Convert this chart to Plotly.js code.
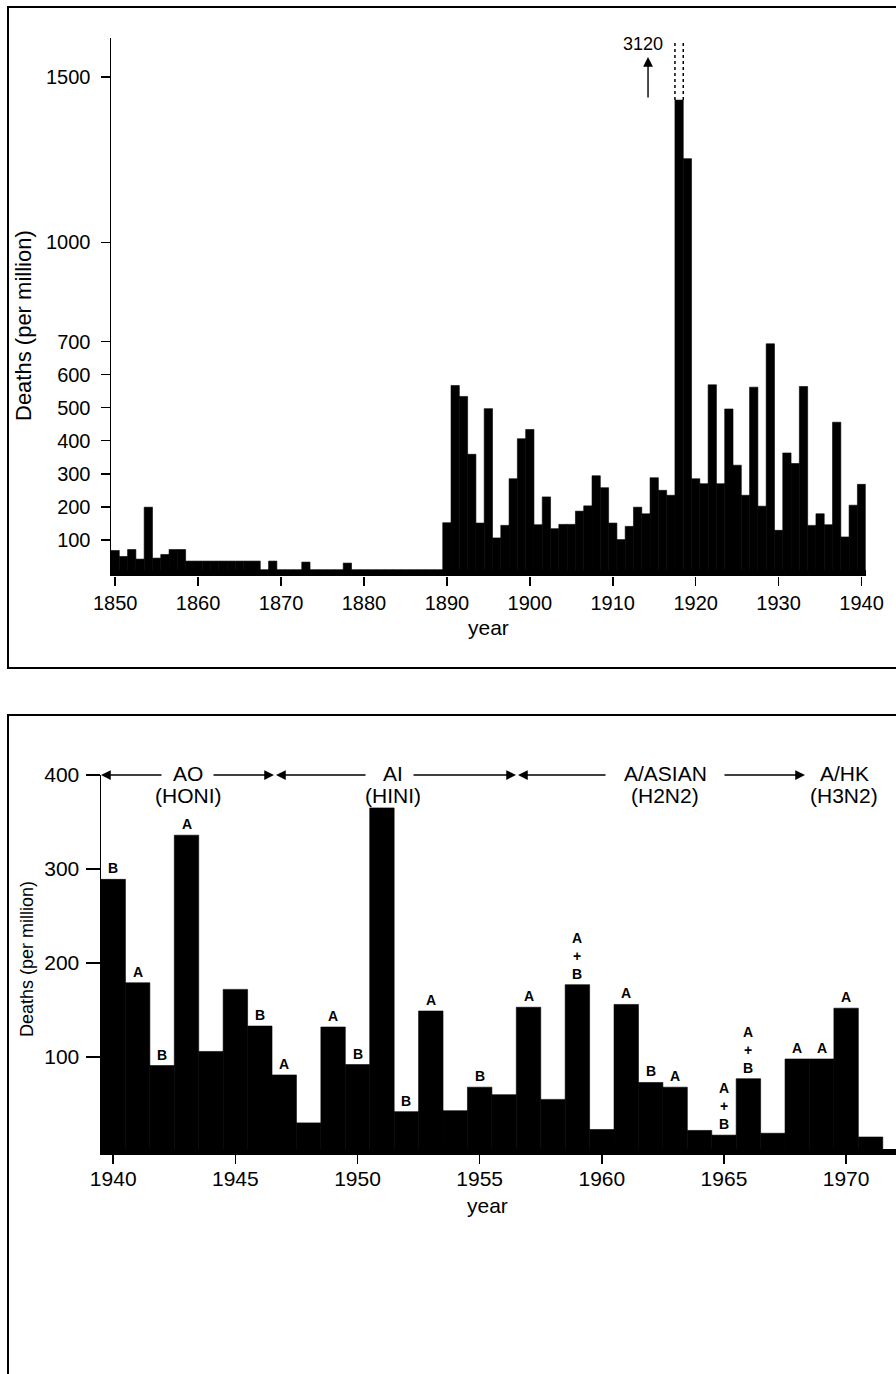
<!DOCTYPE html>
<html>
<head>
<meta charset="utf-8">
<script src="https://cdn.plot.ly/plotly-3.0.1.min.js"></script>
<style>
  html, body { margin: 0; padding: 0; background: #fff; overflow: hidden; }
  #chart { width: 930px; height: 1374px; }
</style>
</head>
<body>
<div id="chart"></div>
<script>
// ---------------- DATA ----------------
// Top panel: influenza deaths per million, 1850-1940
const topYears = [];
for (let y = 1850; y <= 1940; y++) topYears.push(y);
const topDeaths = [
  68, 50, 71, 42, 199, 45, 56, 71, 71,            // 1850-1858
  36, 36, 36, 36, 36, 36, 36, 36, 36,             // 1859-1867
  10, 36, 10, 10, 10, 33, 10, 10, 10, 10, 30,     // 1868-1878
  10, 10, 10, 10, 10, 10, 10, 10, 10, 10, 10,     // 1879-1889
  152, 567, 534, 359, 151, 497, 106, 144, 285, 406, // 1890-1899
  434, 146, 230, 134, 147, 147, 187, 203, 294, 258, // 1900-1909
  151, 101, 141, 199, 179, 288, 250, 235, 3120, 1253, // 1910-1919
  285, 270, 569, 270, 496, 326, 235, 562, 202, 693, // 1920-1929
  129, 363, 331, 564, 144, 179, 146, 456, 109, 205, // 1930-1939
  268                                              // 1940
];
const topXTicks = [1850, 1860, 1870, 1880, 1890, 1900, 1910, 1920, 1930, 1940];
const topYTicks = [100, 200, 300, 400, 500, 600, 700, 1000, 1500];
const topBreak = 1430;   // bars above this are drawn broken (axis break)

// Bottom panel: deaths per million 1940-1971 with virus type
const bottomYears = [];
for (let y = 1940; y <= 1971; y++) bottomYears.push(y);
const bottomDeaths = [
  289, 179, 91, 336, 106, 172, 133, 81, 30, 132,
  92, 365, 42, 149, 43, 68, 60, 153, 55, 177,
  23, 156, 73, 68, 22, 17, 77, 19, 98, 98,
  152, 15
];
const bottomTypes = [
  'B', 'A', 'B', 'A', '', '', 'B', 'A', '', 'A',
  'B', '', 'B', 'A', '', 'B', '', 'A', '', 'A+B',
  '', 'A', 'B', 'A', '', 'A+B', 'A+B', '', 'A', 'A',
  'A', ''
];
const bottomXTicks = [1940, 1945, 1950, 1955, 1960, 1965, 1970];
const bottomYTicks = [100, 200, 300, 400];
const eraNames = ['AO', 'AI', 'A/ASIAN', 'A/HK'];
const eraSubs = ['(HONI)', '(HINI)', '(H2N2)', '(H3N2)'];

// ---------------- LAYOUT HELPERS ----------------
const W = 930, H = 1374;
const px = x => x / W;
const py = y => 1 - y / H;
const FONT = 'Liberation Sans, Arial, Helvetica, sans-serif';
// pixel -> axis value helpers (decorations only)
const bx = x => 1939.5 + (x - 101) / 24.43;
const tx = x => 1849.5 + (x - 111) / 8.293;
const ty = y => (573 - y) / 0.3307;

const topShown = topDeaths.map(v => Math.min(v, topBreak));
const peakIdx = topDeaths.indexOf(Math.max(...topDeaths));

const traces = [
  {
    type: 'bar', x: topYears, y: topShown, xaxis: 'x', yaxis: 'y',
    width: 1, marker: { color: '#000', line: { color: '#000', width: 0.6 } },
    hoverinfo: 'x+text', text: topDeaths.map(String), textposition: 'none'
  },
  {
    type: 'bar', x: bottomYears, y: bottomDeaths, xaxis: 'x2', yaxis: 'y2',
    width: 1, marker: { color: '#000', line: { color: '#000', width: 0.6 } },
    hoverinfo: 'x+y'
  }
];

const annotations = [];
function note(o) {
  annotations.push(Object.assign({ showarrow: false, xanchor: 'center', yanchor: 'middle' }, o));
}
// axis titles
note({ xref: 'paper', yref: 'paper', x: px(23), y: py(326), text: 'Deaths (per million)',
  textangle: -90, font: { family: FONT, size: 22, color: '#000' } });
note({ xref: 'paper', yref: 'paper', x: px(488), y: py(627), text: 'year',
  font: { family: FONT, size: 21, color: '#000' } });
note({ xref: 'paper', yref: 'paper', x: px(27), y: py(959), text: 'Deaths (per million)',
  textangle: -90, font: { family: FONT, size: 18, color: '#000' } });
note({ xref: 'paper', yref: 'paper', x: px(487), y: py(1205), text: 'year',
  font: { family: FONT, size: 21, color: '#000' } });

// broken-bar value and arrow (top panel)
note({ xref: 'x', yref: 'y', x: tx(643), y: ty(44.5), text: String(topDeaths[peakIdx]),
  font: { family: FONT, size: 18, color: '#000' } });
annotations.push({ xref: 'x', yref: 'y', axref: 'x', ayref: 'y',
  x: tx(648), y: ty(57), ax: tx(648), ay: ty(99), text: '', showarrow: true,
  arrowhead: 2, arrowsize: 1.4, arrowwidth: 1.4, arrowcolor: '#000' });

// virus type labels above bars (bottom panel)
bottomTypes.forEach((t, i) => {
  if (!t) return;
  note({ xref: 'x2', yref: 'y2', x: bottomYears[i], y: bottomDeaths[i],
    text: t.split('+').join('<br>+<br>'), yanchor: 'bottom', yshift: 1,
    font: { family: FONT, size: 14, color: '#000', weight: 'bold' } });
});

// era headers
const eraCenters = [188, 393, 665, 844];
eraNames.forEach((n, i) => {
  note({ xref: 'x2', yref: 'paper', x: bx(eraCenters[i]), y: py(773), text: n,
    font: { family: FONT, size: 21, color: '#000' } });
  note({ xref: 'x2', yref: 'paper', x: bx(eraCenters[i]), y: py(795), text: eraSubs[i],
    font: { family: FONT, size: 21, color: '#000' } });
});
// era arrows [tip, tail] in pixels
const eraArrows = [[101, 163], [274, 212], [276, 367], [516, 412], [518, 607], [805, 723]];
eraArrows.forEach(a => {
  annotations.push({ xref: 'x2', yref: 'y2', axref: 'x2', ayref: 'y2',
    x: bx(a[0]), y: 400, ax: bx(a[1]), ay: 400, text: '', showarrow: true,
    arrowhead: 2, arrowsize: 1.5, arrowwidth: 1.3, arrowcolor: '#000' });
});

const shapes = [
  // panel frames
  { type: 'rect', xref: 'paper', yref: 'paper', x0: px(8), x1: px(924), y0: py(668), y1: py(7),
    line: { color: '#000', width: 2 } },
  { type: 'rect', xref: 'paper', yref: 'paper', x0: px(8), x1: px(924), y0: -0.02, y1: py(715),
    line: { color: '#000', width: 2 } },
  // broken bar dotted continuation
  { type: 'line', xref: 'x', yref: 'y', x0: topYears[peakIdx] - 0.5, x1: topYears[peakIdx] - 0.5,
    y0: topBreak, y1: ty(40), line: { color: '#000', width: 1.5, dash: 'dot' } },
  { type: 'line', xref: 'x', yref: 'y', x0: topYears[peakIdx] + 0.5, x1: topYears[peakIdx] + 0.5,
    y0: topBreak, y1: ty(40), line: { color: '#000', width: 1.5, dash: 'dot' } }
];

const tickFontTop = { family: FONT, size: 20, color: '#000' };
const tickFontBot = { family: FONT, size: 21, color: '#000' };

const layout = {
  width: W, height: H, autosize: false,
  margin: { l: 0, r: 0, t: 0, b: 0 },
  paper_bgcolor: '#fff', plot_bgcolor: 'rgba(0,0,0,0)',
  showlegend: false, bargap: 0,
  font: { family: FONT, color: '#000' },
  xaxis: {
    domain: [px(111), px(865.7)], range: [1849.5, 1940.5], anchor: 'y',
    tickmode: 'array', tickvals: topXTicks, ticks: 'outside', ticklen: 9, tickwidth: 1.5,
    tickcolor: '#000', showline: false, showgrid: false, zeroline: false,
    tickfont: tickFontTop, ticklabelstandoff: 0, fixedrange: true
  },
  yaxis: {
    domain: [py(576), py(38)], range: [-3 / 0.3307, (573 - 38) / 0.3307], anchor: 'x',
    tickmode: 'array', tickvals: topYTicks, ticks: 'outside', ticklen: 9, tickwidth: 1.5,
    tickcolor: '#000', showline: true, linecolor: '#000', linewidth: 1.5, showgrid: false,
    zeroline: true, zerolinecolor: '#000', zerolinewidth: 6,
    tickfont: tickFontTop, ticklabelstandoff: 6, fixedrange: true
  },
  xaxis2: {
    domain: [px(101), 1], range: [1939.5, bx(930)], anchor: 'y2',
    tickmode: 'array', tickvals: bottomXTicks, ticks: 'outside', ticklen: 9, tickwidth: 1.5,
    tickcolor: '#000', showline: true, linecolor: '#000', linewidth: 1.5, showgrid: false,
    zeroline: false, tickfont: tickFontBot, ticklabelstandoff: -3, fixedrange: true
  },
  yaxis2: {
    domain: [py(1153), py(775)], range: [-2, 400], anchor: 'x2',
    tickmode: 'array', tickvals: bottomYTicks, ticks: 'outside', ticklen: 14, tickwidth: 1.5,
    tickcolor: '#000', showline: true, linecolor: '#000', linewidth: 1.5, showgrid: false,
    zeroline: true, zerolinecolor: '#000', zerolinewidth: 4,
    tickfont: tickFontBot, ticklabelstandoff: 2, fixedrange: true
  },
  annotations: annotations,
  shapes: shapes
};

Plotly.newPlot('chart', traces, layout, { staticPlot: true, displayModeBar: false });
</script>
</body>
</html>
